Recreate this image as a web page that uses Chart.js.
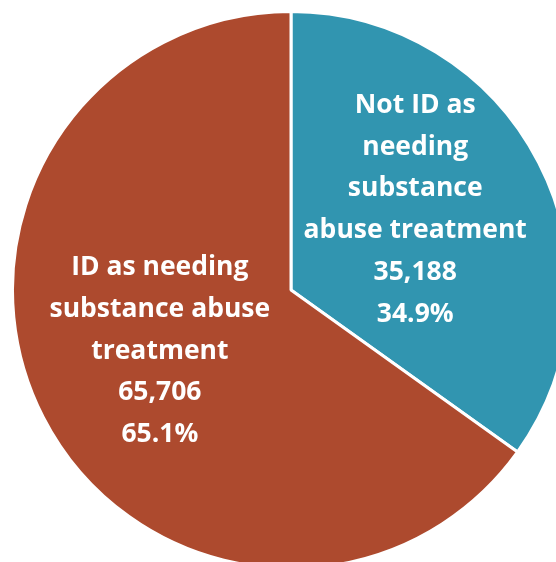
<!DOCTYPE html>
<html>
<head>
<meta charset="utf-8">
<script src="https://cdn.jsdelivr.net/npm/chart.js@4/dist/chart.umd.min.js"></script>
<style>
  html, body { margin: 0; padding: 0; background: #fff; overflow: hidden; width: 556px; height: 562px; }
  #wrap { position: absolute; left: -2px; top: 10px; width: 586px; height: 560px; }
</style>
</head>
<body>
<div id="wrap"><canvas id="pie"></canvas></div>
<script>
const categories = [
  ['Not ID as', 'needing', 'substance', 'abuse treatment'],
  ['ID as needing', 'substance abuse', 'treatment']
];
const counts = [35188, 65706];
const sliceColors = ['#3195b0', '#ad4a2e'];

// label block centres, as fractions of the radius from the pie centre
const labelAnchors = [[0.446, -0.288], [-0.471, 0.219]];

const total = counts.reduce((a, b) => a + b, 0);

const sliceLabels = {
  id: 'sliceLabels',
  afterDatasetsDraw(chart) {
    const ctx = chart.ctx;
    const arcs = chart.getDatasetMeta(0).data;
    ctx.save();
    ctx.fillStyle = '#ffffff';
    ctx.font = 'bold 26.5px "Open Sans"';
    ctx.textAlign = 'center';
    ctx.textBaseline = 'middle';
    const lh = 41.7;
    arcs.forEach((arc, i) => {
      const lines = categories[i].concat([
        counts[i].toLocaleString('en-US'),
        (counts[i] / total * 100).toFixed(1) + '%'
      ]);
      const cx = arc.x + arc.outerRadius * labelAnchors[i][0];
      const cy = arc.y + arc.outerRadius * labelAnchors[i][1];
      const top = cy - (lines.length - 1) * lh / 2;
      lines.forEach((t, k) => ctx.fillText(t, cx, top + k * lh));
    });
    ctx.restore();
  }
};

new Chart(document.getElementById('pie'), {
  type: 'pie',
  data: {
    labels: categories.map(c => c.join(' ')),
    datasets: [{
      data: counts,
      backgroundColor: sliceColors,
      borderColor: '#ffffff',
      borderWidth: 3
    }]
  },
  options: {
    responsive: true,
    maintainAspectRatio: false,
    animation: false,
    layout: { padding: 0 },
    plugins: { legend: { display: false }, tooltip: { enabled: false } }
  },
  plugins: [sliceLabels]
});
</script>
</body>
</html>
